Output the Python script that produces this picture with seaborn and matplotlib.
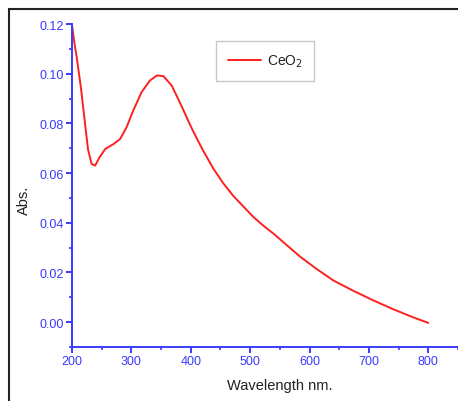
import pandas as pd
import seaborn as sns
import matplotlib.pyplot as plt
from matplotlib.lines import Line2D
from matplotlib.ticker import MultipleLocator

# UV-vis spectrum
wavelength = [200, 204, 208, 215, 222, 227, 233, 239, 246, 256, 270, 281, 292,
              303, 317, 331, 343, 354, 368, 384, 402, 420, 438, 455, 472, 490,
              506, 523, 540, 565, 584, 612, 640, 674, 708, 742, 775, 800]
absorbance = [0.1196, 0.1125, 0.1065, 0.0944, 0.0798, 0.0695, 0.0637, 0.063, 0.0662,
              0.0697, 0.0717, 0.0737, 0.0785, 0.0851, 0.0925, 0.0972, 0.0993, 0.099,
              0.0952, 0.0872, 0.0778, 0.0694, 0.0618, 0.0558, 0.0507, 0.0462,
              0.0422, 0.0387, 0.0355, 0.0303, 0.0264, 0.0214, 0.0168, 0.0126,
              0.0087, 0.0051, 0.0019, -0.0003]
x_ticks = [200, 300, 400, 500, 600, 700, 800]
y_ticks = [0.00, 0.02, 0.04, 0.06, 0.08, 0.10, 0.12]

def main():
    df = pd.DataFrame({'Wavelength': wavelength, 'Abs': absorbance})

    sns.set_style('ticks')
    plt.rcParams['font.family'] = ['Liberation Sans', 'DejaVu Sans']

    blue = '#3a3aff'
    fig = plt.figure(figsize=(4.58, 4.02), dpi=100)
    ax = fig.add_axes([0.1572, 0.1343, 0.8428, 0.8035])

    sns.lineplot(data=df, x='Wavelength', y='Abs', color='#ff2020', linewidth=1.4,
                 label='CeO$_2$', ax=ax)

    ax.set_xlim(200, 850)
    ax.set_ylim(-0.01, 0.12)
    ax.set_xticks(x_ticks)
    ax.set_yticks(y_ticks)
    ax.set_yticklabels([f'{v:.2f}' for v in y_ticks])
    ax.xaxis.set_minor_locator(MultipleLocator(50))
    ax.yaxis.set_minor_locator(MultipleLocator(0.01))

    for side in ['top', 'right']:
        ax.spines[side].set_visible(False)
    for side in ['left', 'bottom']:
        ax.spines[side].set_color(blue)
        ax.spines[side].set_linewidth(1.4)

    ax.tick_params(which='major', direction='out', length=4, width=1.4,
                   color=blue, labelcolor=blue, labelsize=9, pad=2)
    ax.tick_params(which='minor', direction='out', length=2.5, width=1.2, color=blue)

    ax.set_xlabel('Wavelength nm.', fontsize=10.5, color='#222222')
    ax.set_ylabel('Abs.', fontsize=10.5, color='#222222')
    ax.xaxis.set_label_coords(0.539, -0.096)
    ax.yaxis.set_label_coords(-0.105, 0.458)

    leg = ax.legend(loc='upper left', bbox_to_anchor=(0.373, 0.947), fontsize=10,
                    frameon=True, fancybox=False, handlelength=2.4,
                    handletextpad=0.4, borderpad=0.85, borderaxespad=0)
    leg.get_frame().set_edgecolor('#bbbbbb')
    leg.get_frame().set_linewidth(1.0)
    for t in leg.get_texts():
        t.set_color('#222222')

    # outer frame of the original figure
    fig.add_artist(Line2D([0.0197, 0.0197], [0.0, 0.975], color='#222222',
                          linewidth=1.5, transform=fig.transFigure))
    fig.add_artist(Line2D([0.0197, 1.0], [0.975, 0.975], color='#222222',
                          linewidth=1.5, transform=fig.transFigure))

    plt.savefig('out.png', dpi=100)

if __name__ == "__main__":
    main()
